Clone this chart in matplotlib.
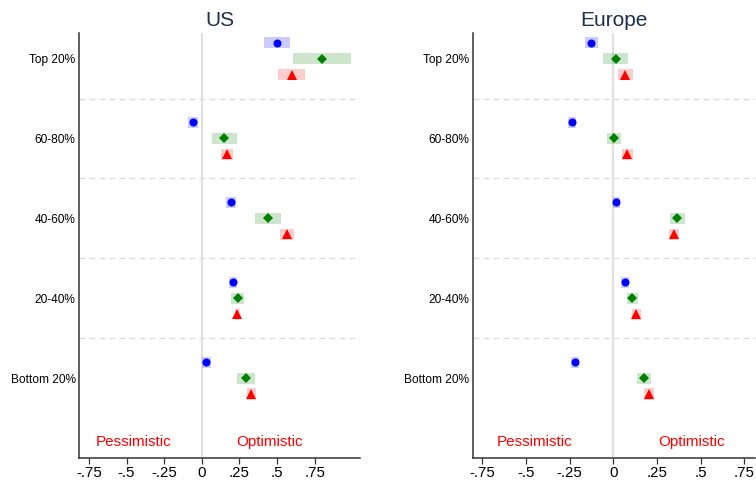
import matplotlib
matplotlib.use("Agg")
import matplotlib.pyplot as plt
import numpy as np

plt.rcParams['font.family'] = ['Liberation Sans', 'DejaVu Sans']

groups = ["Bottom 20%", "20-40%", "40-60%", "60-80%", "Top 20%"]
xtick_vals = [-0.75, -0.5, -0.25, 0, 0.25, 0.5, 0.75]
xtick_labels = ["-.75", "-.5", "-.25", "0", ".25", ".5", ".75"]

# US: point estimates and interval bounds (Bottom 20% .. Top 20%)
us_blue = [0.027, 0.210, 0.193, -0.058, 0.500]
us_blue_lo = [0.002, 0.184, 0.162, -0.089, 0.414]
us_blue_hi = [0.060, 0.237, 0.226, -0.027, 0.587]
us_green = [0.295, 0.239, 0.441, 0.146, 0.800]
us_green_lo = [0.233, 0.197, 0.354, 0.066, 0.605]
us_green_hi = [0.354, 0.279, 0.529, 0.233, 0.990]
us_red = [0.326, 0.237, 0.567, 0.166, 0.598]
us_red_lo = [0.299, 0.220, 0.523, 0.128, 0.507]
us_red_hi = [0.361, 0.255, 0.614, 0.208, 0.689]

# Europe
eu_blue = [-0.219, 0.067, 0.017, -0.236, -0.126]
eu_blue_lo = [-0.242, 0.044, -0.004, -0.259, -0.160]
eu_blue_hi = [-0.196, 0.090, 0.038, -0.213, -0.089]
eu_green = [0.176, 0.109, 0.366, 0.004, 0.013]
eu_green_lo = [0.136, 0.080, 0.323, -0.036, -0.059]
eu_green_hi = [0.214, 0.139, 0.412, 0.042, 0.082]
eu_red = [0.202, 0.132, 0.346, 0.080, 0.069]
eu_red_lo = [0.177, 0.107, 0.319, 0.051, 0.025]
eu_red_hi = [0.231, 0.157, 0.376, 0.111, 0.111]

panels = [
    ("US", (us_blue, us_blue_lo, us_blue_hi), (us_green, us_green_lo, us_green_hi),
     (us_red, us_red_lo, us_red_hi), (-0.816, 1.052)),
    ("Europe", (eu_blue, eu_blue_lo, eu_blue_hi), (eu_green, eu_green_lo, eu_green_hi),
     (eu_red, eu_red_lo, eu_red_hi), (-0.804, 0.811)),
]

fig = plt.figure(figsize=(7.56, 4.82), dpi=100)
rects = [[0.1045, 0.0498, 0.3717, 0.8817], [0.6253, 0.0498, 0.3734, 0.8817]]

series_style = [
    ("#0000ff", "o", 5.8, 0.2),
    ("#007f00", "D", 5.6, 0.0),
    ("#ff0000", "^", 6.6, -0.2),
]

ypos = np.arange(1, len(groups) + 1)

for rect, (title, blue, green, red, xlim) in zip(rects, panels):
    ax = fig.add_axes(rect)
    ax.set_xlim(*xlim)
    ax.set_ylim(0, 5.32)
    ax.axvline(0, color="#d9d9d9", lw=1.2, zorder=1)
    for yb in [1.5, 2.5, 3.5, 4.5]:
        ax.axhline(yb, color="#dcdcdc", lw=1.0, ls=(0, (4.3, 2.9)), zorder=1)
    for (col, mk, ms, off), (est, lo, hi) in zip(series_style, [blue, green, red]):
        y = ypos + off
        lo = np.array(lo)
        hi = np.array(hi)
        ax.barh(y, hi - lo, left=lo, height=0.14, color=col, alpha=0.2,
                linewidth=0, zorder=2)
        ax.plot(est, y, ls="none", marker=mk, ms=ms, color=col,
                markeredgewidth=0, zorder=3)
    ax.set_yticks(ypos)
    ax.set_yticklabels(groups, fontsize=8.6)
    ax.tick_params(axis="y", length=0, pad=2.5)
    ax.set_xticks(xtick_vals)
    ax.set_xticklabels(xtick_labels, fontsize=10.8)
    ax.tick_params(axis="x", length=4, width=0.9, pad=2, color="#333333")
    for s in ["top", "right"]:
        ax.spines[s].set_visible(False)
    for s in ["left", "bottom"]:
        ax.spines[s].set_color("#333333")
        ax.spines[s].set_linewidth(1.1)
    ax.set_title(title, fontsize=15, color="#1e2f4f", pad=5)
    ax.text(-0.45, 0.2, "Pessimistic", color="#ff0000", fontsize=11,
            ha="center", va="center")
    ax.text(0.45, 0.2, "Optimistic", color="#ff0000", fontsize=11,
            ha="center", va="center")

fig.savefig("out.png", dpi=100)
